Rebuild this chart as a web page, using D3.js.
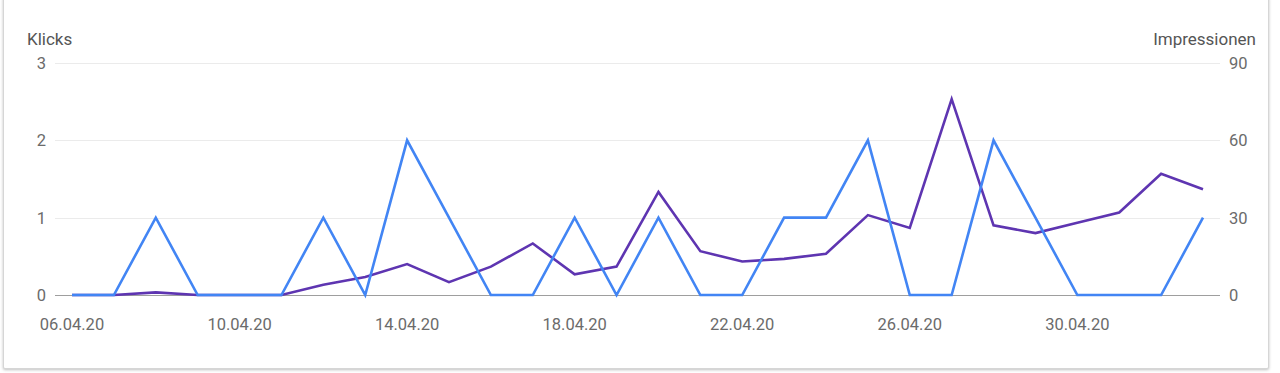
<!DOCTYPE html>
<html>
<head>
<meta charset="utf-8">
<script src="https://cdn.jsdelivr.net/npm/d3@7"></script>
<style>
    body { margin: 0; background: #fff; font-family: Roboto, "Noto Sans", sans-serif; }
    #card {
        position: absolute; left: 3px; top: -4px; width: 1264px; height: 371px;
        border: 1px solid #d6d6d6; border-radius: 2px;
        box-shadow: 0 1px 3px rgba(0,0,0,0.25);
        background: #fff;
    }
    svg { position: absolute; left: 0; top: 0; }
</style>
</head>
<body>
<div id="card"></div>
<div id="chart"></div>
<script>
// tanggal (06.04.20 - 03.05.20)
var days = ["06.04.20","07.04.20","08.04.20","09.04.20","10.04.20","11.04.20","12.04.20",
    "13.04.20","14.04.20","15.04.20","16.04.20","17.04.20","18.04.20","19.04.20",
    "20.04.20","21.04.20","22.04.20","23.04.20","24.04.20","25.04.20","26.04.20",
    "27.04.20","28.04.20","29.04.20","30.04.20","01.05.20","02.05.20","03.05.20"];
var klicks = [0,0,1,0,0,0,1,0,2,1,0,0,1,0,1,0,0,1,1,2,0,0,2,1,0,0,0,1];
var impressionen = [0,0,1,0,0,0,4,7,12,5,11,20,8,11,40,17,13,14,16,31,26,76,27,24,28,32,47,41];
var xTicks = ["06.04.20","10.04.20","14.04.20","18.04.20","22.04.20","26.04.20","30.04.20"];
var leftTicks = [0, 1, 2, 3];
var rightTicks = [0, 30, 60, 90];

var width = 1280, height = 373;
var plotLeft = 55, plotRight = 1220, plotTop = 63, plotBottom = 295;

var svg = d3.select("#chart").append("svg")
    .attr("width", width)
    .attr("height", height);

var x = d3.scalePoint().domain(days).range([72, 1203]);
var yL = d3.scaleLinear().domain([0, 3]).range([plotBottom, plotTop]);
var yR = d3.scaleLinear().domain([0, 90]).range([plotBottom, plotTop]);

// gridlines
svg.append("g").selectAll("line")
    .data(leftTicks)
    .enter().append("line")
    .attr("x1", plotLeft).attr("x2", plotRight)
    .attr("y1", function (d) { return Math.round(yL(d)) + 0.5; })
    .attr("y2", function (d) { return Math.round(yL(d)) + 0.5; })
    .attr("stroke", function (d) { return d === 0 ? "#9e9e9e" : "#ebebeb"; })
    .attr("stroke-width", 1);

// left axis labels
svg.append("g").selectAll("text")
    .data(leftTicks)
    .enter().append("text")
    .attr("x", 46)
    .attr("y", function (d) { return yL(d) + 6; })
    .attr("text-anchor", "end")
    .attr("fill", "#6b6b6b")
    .style("font-size", "16.5px")
    .text(function (d) { return d; });

// right axis labels
svg.append("g").selectAll("text")
    .data(rightTicks)
    .enter().append("text")
    .attr("x", 1229)
    .attr("y", function (d) { return yR(d) + 6; })
    .attr("text-anchor", "start")
    .attr("fill", "#6b6b6b")
    .style("font-size", "16.5px")
    .text(function (d) { return d; });

// x labels
svg.append("g").selectAll("text")
    .data(xTicks)
    .enter().append("text")
    .attr("x", function (d) { return x(d); })
    .attr("y", 330)
    .attr("text-anchor", "middle")
    .attr("fill", "#6b6b6b")
    .style("font-size", "16.5px")
    .text(function (d) { return d; });

// axis titles
svg.append("text")
    .attr("x", 27).attr("y", 45)
    .attr("fill", "#555")
    .style("font-size", "17px")
    .text("Klicks");
svg.append("text")
    .attr("x", 1256).attr("y", 45)
    .attr("text-anchor", "end")
    .attr("fill", "#555")
    .style("font-size", "17px")
    .text("Impressionen");

// garis
var lineImp = d3.line()
    .x(function (d, i) { return x(days[i]); })
    .y(function (d) { return yR(d); });
var lineKl = d3.line()
    .x(function (d, i) { return x(days[i]); })
    .y(function (d) { return yL(d); });

svg.append("path")
    .datum(impressionen)
    .attr("d", lineImp)
    .attr("fill", "none")
    .attr("stroke", "#5e35b1")
    .attr("stroke-width", 2.6)
    .attr("stroke-linejoin", "miter");

svg.append("path")
    .datum(klicks)
    .attr("d", lineKl)
    .attr("fill", "none")
    .attr("stroke", "#4285f4")
    .attr("stroke-width", 2.6)
    .attr("stroke-linejoin", "miter");
</script>
</body>
</html>
